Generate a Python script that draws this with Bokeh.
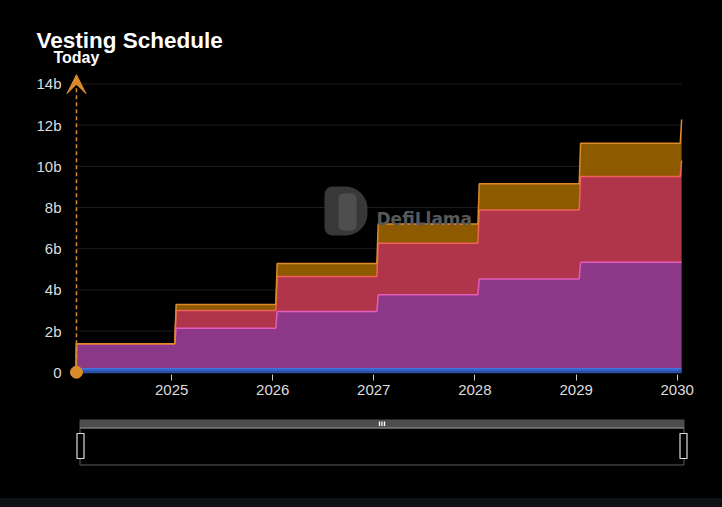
import numpy as np
import pandas as pd
from bokeh.plotting import figure
from bokeh.layouts import column
from bokeh.models import (Range1d, FixedTicker, DatetimeTickFormatter, Label, Arrow,
                          VeeHead, BoxAnnotation, ColumnDataSource)
from bokeh.embed import file_html
from bokeh.resources import INLINE

# ---------------- data (values in billions of tokens) ----------------
dates = ["2024-01-22", "2024-01-23", "2025-01-12", "2025-01-17", "2026-01-12", "2026-01-17",
         "2027-01-12", "2027-01-17", "2028-01-12", "2028-01-17", "2029-01-12", "2029-01-17",
         "2030-01-12", "2030-01-17"]
blue   = [0, 0.17, 0.17, 0.17, 0.17, 0.17, 0.17, 0.17, 0.17, 0.17, 0.17, 0.17, 0.17, 0.17]
purple = [0, 1.22, 1.22, 1.97, 1.97, 2.78, 2.78, 3.59, 3.59, 4.36, 4.36, 5.17, 5.17, 5.17]
red    = [0, 0.00, 0.00, 0.86, 0.86, 1.70, 1.70, 2.50, 2.50, 3.35, 3.35, 4.16, 4.16, 4.94]
orange = [0, 0.00, 0.00, 0.29, 0.29, 0.63, 0.63, 0.94, 0.94, 1.27, 1.27, 1.62, 1.62, 1.99]

today = "2024-01-23"
year_ticks = ["2025-01-01", "2026-01-01", "2027-01-01", "2028-01-01", "2029-01-01", "2030-01-01"]
y_ticks = [0, 2, 4, 6, 8, 10, 12, 14]
y_labels = ["0", "2b", "4b", "6b", "8b", "10b", "12b", "14b"]

# ---------------- styles ----------------
FILL = {"blue": "#2d5bbd", "purple": "#8c3888", "red": "#b0344a", "orange": "#8d5a00"}
LINE = {"blue": "#3f74da", "purple": "#e35cbd", "red": "#f0625a", "orange": "#de8a2a"}
MARK = "#d98a2b"
FONT = "Liberation Sans"

x = pd.to_datetime(dates)
c0 = np.zeros(len(dates))
c1 = c0 + np.array(blue)
c2 = c1 + np.array(purple)
c3 = c2 + np.array(red)
c4 = c3 + np.array(orange)
src = ColumnDataSource(dict(x=x, c0=c0, c1=c1, c2=c2, c3=c3, c4=c4))

def ms(d):
    return pd.Timestamp(d).value / 1e6

p = figure(width=722, height=418, x_axis_type="datetime",
           x_range=Range1d(pd.Timestamp("2023-08-10"), pd.Timestamp("2030-02-18")),
           y_range=Range1d(-0.40, 18.05),
           output_backend="svg", toolbar_location=None,
           min_border_left=30, min_border_right=32, min_border_top=0, min_border_bottom=38,
           background_fill_color="#000000", border_fill_color="#000000",
           outline_line_color=None)
p.xgrid.visible = False
p.ygrid.visible = False

# grid lines across the data span
gx0 = [x[0]] * len(y_ticks)
gx1 = [x[-1]] * len(y_ticks)
p.segment(x0=gx0, x1=gx1, y0=y_ticks, y1=y_ticks, line_color="#1e1e1e", line_width=1)

# stacked areas
p.varea(x="x", y1="c0", y2="c1", source=src, fill_color=FILL["blue"])
p.varea(x="x", y1="c1", y2="c2", source=src, fill_color=FILL["purple"])
p.varea(x="x", y1="c2", y2="c3", source=src, fill_color=FILL["red"])
p.varea(x="x", y1="c3", y2="c4", source=src, fill_color=FILL["orange"])
p.line(x="x", y="c0", source=src, line_color="#2a4f9e", line_width=2)
p.line(x="x", y="c1", source=src, line_color=LINE["blue"], line_width=1.5)
p.line(x="x", y="c2", source=src, line_color=LINE["purple"], line_width=1.5)
p.line(x="x", y="c3", source=src, line_color=LINE["red"], line_width=1.5)
p.line(x="x", y="c4", source=src, line_color=LINE["orange"], line_width=1.5)

# axes
p.xaxis.ticker = FixedTicker(ticks=[ms(d) for d in year_ticks])
p.xaxis.formatter = DatetimeTickFormatter(years="%Y", months="%Y", days="%Y", hours="%Y",
                                          minutes="%Y", seconds="%Y", milliseconds="%Y")
p.xaxis.axis_line_color = None
p.xaxis.major_tick_in = 6
p.xaxis.major_tick_out = 0
p.xaxis.major_tick_line_color = "#cccccc"
p.xaxis.minor_tick_line_color = None
p.xaxis.major_label_standoff = 4
p.xaxis.major_label_text_font = FONT
p.xaxis.major_label_text_font_size = "15px"
p.xaxis.major_label_text_color = "#dddddd"

p.yaxis.ticker = FixedTicker(ticks=y_ticks)
p.yaxis.major_label_overrides = {t: l for t, l in zip(y_ticks, y_labels)}
p.yaxis.axis_line_color = None
p.yaxis.major_tick_line_color = None
p.yaxis.minor_tick_line_color = None
p.yaxis.major_tick_in = 0
p.yaxis.major_tick_out = 0
p.yaxis.major_label_standoff = -31
p.yaxis.major_label_text_font = FONT
p.yaxis.major_label_text_font_size = "15px"
p.yaxis.major_label_text_color = "#dddddd"

# today marker
t_ms = ms(today)
p.add_layout(Arrow(x_start=t_ms, y_start=0, x_end=t_ms, y_end=14.45,
                   line_color=MARK, line_width=1.5, line_dash="4 3",
                   end=VeeHead(size=19, fill_color=MARK, line_color=MARK)))
p.scatter(x=[pd.Timestamp(today)], y=[0], size=12, color=MARK)
p.add_layout(Label(x=t_ms, y=15.27, text="Today", text_align="center", text_baseline="alphabetic",
                   text_font=FONT, text_font_size="16px", text_font_style="bold", text_color="#ffffff"))

# title
p.add_layout(Label(x=6, y=340, x_units="screen", y_units="screen", text="Vesting Schedule",
                   text_baseline="alphabetic", text_font=FONT, text_font_size="22.5px",
                   text_font_style="bold", text_color="#ffffff"))

# watermark
p.add_layout(BoxAnnotation(left=294, right=337, top=194, bottom=145,
                           left_units="screen", right_units="screen", top_units="screen", bottom_units="screen",
                           fill_color="#383838", fill_alpha=1.0, line_alpha=0,
                           border_radius=(8, 22, 22, 8)))
p.add_layout(BoxAnnotation(left=308, right=326, top=187, bottom=150,
                           left_units="screen", right_units="screen", top_units="screen", bottom_units="screen",
                           fill_color="#4e4e4e", fill_alpha=1.0, line_alpha=0, border_radius=5))
p.add_layout(Label(x=346, y=161.3, x_units="screen", y_units="screen", text="DefiLlama",
                   text_baseline="alphabetic", text_font="DejaVu Sans", text_font_size="17px",
                   text_font_style="bold", text_color="#595959"))

# ---------------- data-zoom slider (page-pixel coordinates) ----------------
s = figure(width=722, height=80, x_range=Range1d(30, 690), y_range=Range1d(498, 418),
           x_axis_type=None, y_axis_type=None, output_backend="svg", toolbar_location=None,
           min_border_left=30, min_border_right=32, min_border_top=0, min_border_bottom=0,
           background_fill_color="#000000", border_fill_color="#000000",
           outline_line_color=None)
s.grid.visible = False
s.quad(left=[79], right=[684], top=[419], bottom=[427.5], fill_color="#4d4d4d", line_color=None)
s.quad(left=[79.5], right=[683.5], top=[427.5], bottom=[464.5], fill_alpha=0,
       line_color="#5e5e5e", line_width=1)
s.segment(x0=[79.5], x1=[683.5], y0=[427.5], y1=[427.5], line_color="#8a8a8a", line_width=1)
s.segment(x0=[379, 381.5, 384], x1=[379, 381.5, 384], y0=[421, 421, 421], y1=[425.5, 425.5, 425.5],
          line_color="#ffffff", line_width=1.3)
s.quad(left=[76.5, 679.5], right=[83.5, 686.5], top=[433, 433], bottom=[458, 458],
       fill_color="#000000", line_color="#dddddd", line_width=1.2)

layout = column(p, s, spacing=0)
html = file_html(layout, INLINE)
html = html.replace("</head>",
                    "<style>html{background:#0f1215 linear-gradient(#000000,#000000) no-repeat;"
                    "background-size:3000px 498px;}body{background:transparent;}</style></head>")
open("out.html", "w").write(html)
